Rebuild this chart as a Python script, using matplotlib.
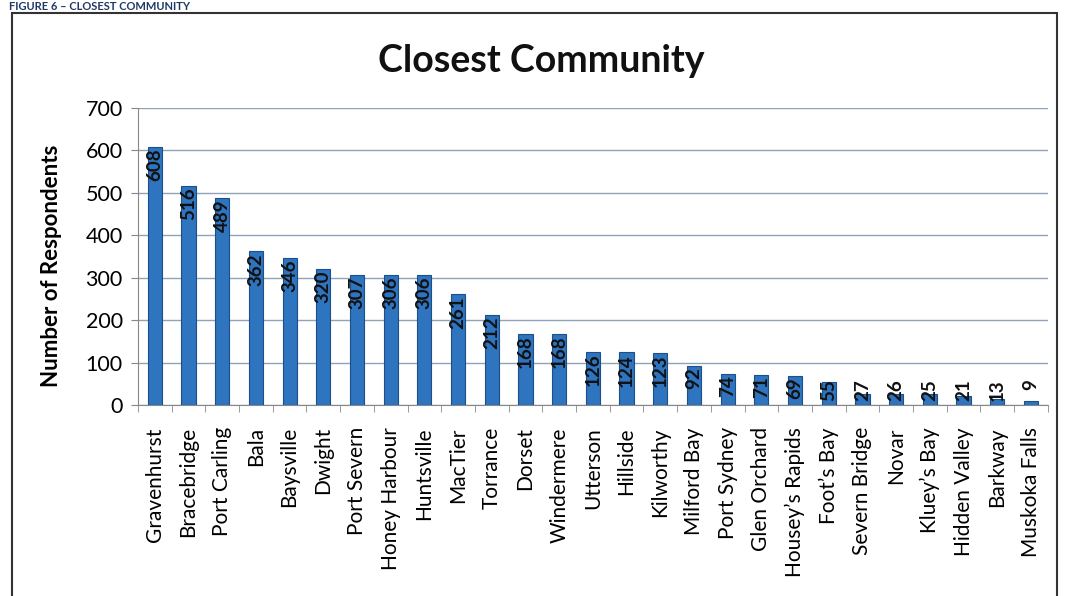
import matplotlib.pyplot as plt
from matplotlib.patches import Rectangle

plt.rcParams['font.family'] = ['Lato', 'DejaVu Sans']

communities = ['Gravenhurst', 'Bracebridge', 'Port Carling', 'Bala', 'Baysville',
               'Dwight', 'Port Severn', 'Honey Harbour', 'Huntsville', 'MacTier',
               'Torrance', 'Dorset', 'Windermere', 'Utterson', 'Hillside',
               'Kilworthy', 'Milford Bay', 'Port Sydney', 'Glen Orchard',
               'Housey\u2019s Rapids', 'Foot\u2019s Bay', 'Severn Bridge', 'Novar',
               'Kluey\u2019s Bay', 'Hidden Valley', 'Barkway', 'Muskoka Falls']
respondents = [608, 516, 489, 362, 346, 320, 307, 306, 306, 261, 212, 168, 168,
               126, 124, 123, 92, 74, 71, 69, 55, 27, 26, 25, 21, 13, 9]
yticks = [0, 100, 200, 300, 400, 500, 600, 700]

fig = plt.figure(figsize=(10.67, 5.96), dpi=100)
ax = fig.add_axes([0.1293, 0.3205, 0.8527, 0.4983])

x = list(range(len(communities)))
ax.bar(x, respondents, width=0.42, color='#2f74be', edgecolor='#1d4f8a',
       linewidth=0.8, zorder=3)

# value labels, rotated, sitting at the top of each bar
for xi, v in zip(x, respondents):
    ax.text(xi, max(v - 4, 60), str(v), rotation=90, ha='center', va='top',
            fontsize=13.5, fontweight='bold', color='#111111', zorder=4)

ax.set_xlim(-0.5, len(communities) - 0.5)
ax.set_ylim(0, 700)
ax.set_yticks(yticks)
ax.set_yticklabels([str(t) for t in yticks], fontsize=15.5)
ax.set_xticks(x)
ax.set_xticklabels(communities, rotation=90, fontsize=15)
ax.tick_params(axis='x', length=0, pad=16)
ax.tick_params(axis='y', length=5, color='#888888', pad=6)
# category boundary ticks
ax.set_xticks([i - 0.5 for i in range(len(communities) + 1)], minor=True)
ax.tick_params(axis='x', which='minor', length=5, color='#888888')

ax.grid(axis='y', color='#8fa3b8', linewidth=1.0, zorder=0)
for s in ['top', 'right']:
    ax.spines[s].set_visible(False)
ax.spines['left'].set_color('#888888')
ax.spines['bottom'].set_color('#888888')

ax.set_ylabel('Number of Respondents', fontsize=16, fontweight='bold')
ax.yaxis.set_label_coords(-0.083, 0.47)

fig.text(0.507, 0.898, 'Closest Community', ha='center', va='center',
         fontsize=27, fontweight='bold', color='#111111')

# page frame and caption from the scanned report
fig.patches.append(Rectangle((0.011, -0.05), 0.980, 1.028, transform=fig.transFigure,
                             fill=False, edgecolor='#333333', linewidth=1.5))
fig.text(0.008, 0.999, 'FIGURE 6 \u2013 CLOSEST COMMUNITY', ha='left', va='top',
         fontsize=8, fontweight='bold', color='#1f3864')

fig.savefig('out.png', dpi=100)
